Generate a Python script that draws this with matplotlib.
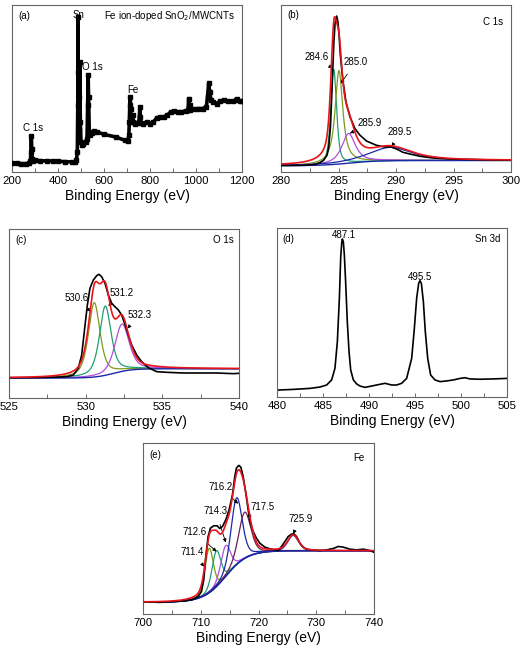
import numpy as np
import matplotlib
matplotlib.use("Agg")
import matplotlib.pyplot as plt
from matplotlib.ticker import MultipleLocator

plt.rcParams['font.family'] = ['Liberation Sans', 'DejaVu Sans']

# ---------------- (a) survey ----------------
survey_ev = [200, 220, 240, 260, 275, 280, 282, 284, 286, 288, 292, 300, 320, 350, 380, 400,
             430, 460, 475, 480, 484, 486, 487, 488, 490, 493, 495, 497, 500, 505, 510, 520,
             526, 529, 531, 533, 536, 540, 548, 555, 570, 600, 650, 690, 705, 708, 710, 712,
             714, 716, 718, 722, 726, 728, 735, 745, 752, 756, 758, 762, 770, 785, 800, 815,
             830, 845, 860, 875, 890, 905, 920, 935, 955, 965, 968, 972, 976, 990, 1010, 1030,
             1045, 1050, 1055, 1060, 1065, 1075, 1090, 1105, 1120, 1140, 1160, 1175, 1180,
             1190, 1200]
survey_cps = [5.2, 5.2, 5.0, 5.0, 5.2, 6.5, 12, 21.6, 14, 8, 6.8, 6.9, 6.8, 6.6, 6.6, 6.4,
              6.2, 6.0, 6.0, 7, 12, 40, 93, 60, 25, 45, 66, 30, 18, 16, 17, 18,
              20, 40, 58, 45, 24, 22, 23.5, 24.5, 24, 22.5, 21, 19, 18.5, 22, 30, 40,
              45, 38, 32, 30, 34, 30, 29, 29.5, 30, 39, 33, 29.5, 29, 30, 29, 30,
              32.5, 33, 33, 34, 36, 36.5, 36, 36, 36.5, 37, 44, 40, 37, 37.5, 38, 38,
              39, 45, 53, 48, 43, 42, 41, 42.5, 43, 42.5, 42.5, 43, 43.5,
              42.5, 42.5]

# ---------------- (b) C 1s ----------------
c1s_ev = [280.0, 281.0, 282.0, 282.5, 283.0, 283.4, 283.7, 284.0, 284.15, 284.3, 284.45, 284.6,
          284.7, 284.84, 284.95, 285.05, 285.15, 285.3, 285.42, 285.65, 286.0, 286.43, 286.87,
          287.45, 288.3, 289.0, 289.5, 290.1, 290.6, 291.2, 292.1, 293.2, 294.4, 295.6, 298.5, 300.0]
c1s_cps = [3.9, 3.9, 4.0, 4.2, 4.6, 5.6, 7.0, 10.0, 15, 27, 52, 78,
           89, 93.4, 90, 82, 71, 60, 53, 42, 33, 26, 22,
           18.5, 16.0, 15.0, 15.2, 13.6, 11.8, 10.8, 9.4, 8.4, 7.9, 7.6, 7.2, 7.2]
c1s_centers = [284.58, 285.04, 285.88, 289.5]
c1s_heights = [57.0, 56.0, 17.8, 8.0]
c1s_fwhm = [0.6, 0.8, 1.4, 4.5]
c1s_eta = [0.5, 0.9, 0.8, 0.8]
c1s_bg = [3.8, 6.9, 286.0, 1.2]

# ---------------- (c) O 1s ----------------
o1s_ev = [525.0, 526.5, 528.0, 528.76, 529.2, 529.52, 529.74, 529.96, 530.11, 530.28, 530.5,
          530.72, 530.87, 531.04, 531.26, 531.48, 531.7, 531.91, 532.13, 532.35, 532.57, 532.78,
          533.0, 533.33, 533.65, 534.09, 534.63, 535.28, 536.37, 537.46, 538.55, 539.63, 540.0]
o1s_cps = [12.0, 12.1, 12.3, 12.6, 13.6, 17.6, 25.4, 43.2, 55.0, 64.9, 69.8,
           72.4, 73.2, 71.8, 67.9, 60.9, 56.0, 54.0, 52.1, 49.1, 43.2, 37.3,
           31.4, 25.4, 21.5, 17.9, 15.6, 15.2, 14.8, 14.8, 14.8, 14.4, 14.6]
o1s_centers = [530.56, 531.28, 532.37]
o1s_heights = [44.0, 41.0, 28.0]
o1s_fwhm = [0.9, 0.9, 1.1]
o1s_eta = [0.6, 0.6, 0.5]
o1s_bg = [11.8, 17.3, 531.8, 0.6]

# ---------------- (d) Sn 3d ----------------
sn_ev = [480.04, 481.78, 483.59, 484.67, 485.4, 485.94, 486.3, 486.56, 486.78, 486.92, 487.03,
         487.1, 487.21, 487.32, 487.46, 487.64, 487.83, 488.01, 488.3, 488.66, 489.02, 489.57,
         490.11, 490.83, 491.74, 492.46, 493.01, 493.55, 494.09, 494.64, 494.93, 495.18, 495.4,
         495.54, 495.69, 495.91, 496.12, 496.38, 496.7, 497.17, 497.72, 498.44, 499.17, 499.89,
         500.43, 500.98, 502.07, 503.51, 504.96]
sn_cps = [4.1, 4.5, 5.1, 5.9, 7.1, 10.1, 17.0, 32.7, 58.4, 82.1, 90.9,
          93.5, 91.9, 84.0, 68.2, 44.6, 26.8, 16.0, 10.1, 7.7, 6.5, 5.7,
          6.3, 7.1, 8.1, 7.1, 7.1, 8.1, 11.0, 22.9, 40.6, 58.4, 67.3,
          68.8, 67.3, 56.4, 38.7, 22.9, 13.0, 10.1, 9.1, 9.5, 10.1, 11.0,
          11.4, 10.7, 10.5, 10.7, 11.0]

# ---------------- (e) Fe 2p ----------------
fe_ev = [700.0, 702.89, 705.78, 707.51, 708.67, 709.54, 710.12, 710.52, 710.87, 711.27, 711.68,
         712.25, 712.83, 713.29, 713.76, 714.34, 714.91, 715.49, 715.9, 716.18, 716.59, 716.94,
         717.34, 717.8, 718.21, 718.61, 719.08, 719.65, 720.23, 721.1, 721.97, 722.83, 723.41,
         723.99, 724.57, 725.14, 725.72, 726.13, 726.59, 727.17, 727.75, 728.32, 729.19, 730.64,
         731.79, 732.95, 733.82, 734.68, 735.84, 736.99, 738.15, 739.31, 740.0]
fe_cps = [7.2, 6.8, 7.4, 7.8, 8.6, 10.2, 13.1, 19.9, 33.6, 45.3, 50.2,
          51.6, 51.6, 50.0, 51.2, 55.1, 60.9, 69.7, 80.5, 85.4, 86.9, 85.9,
          80.5, 70.7, 60.9, 53.1, 48.2, 44.3, 41.4, 39.1, 38.1, 37.5, 37.1,
          39.5, 42.4, 45.3, 46.7, 46.9, 45.3, 41.4, 39.1, 37.9, 37.5, 37.1,
          37.5, 38.3, 39.5, 39.1, 37.9, 37.5, 37.9, 37.1, 36.1]
fe_centers = [711.45, 712.7, 714.3, 716.2, 717.6, 726.0]
fe_heights = [26.0, 21.0, 18.0, 39.0, 27.0, 9.0]
fe_fwhm = [1.7, 1.8, 2.0, 2.3, 2.5, 2.2]
fe_eta = [0.3, 0.3, 0.3, 0.3, 0.3, 0.3]
fe_bg = [6.9, 37.0, 714.3, 1.9]

RED = '#e8141c'
TEAL = '#20a070'
OLIVE = '#7f9a1f'
PURPLE = '#b24de0'
BLUE = '#1a28a8'
MAROON = '#6e1e4e'


def pv(x, c, h, w, eta):
    t = (x - c) / w
    return h * (eta / (1 + 4 * t ** 2) + (1 - eta) * np.exp(-4 * np.log(2) * t ** 2))


def bg(x, p):
    lo, hi, c, s = p
    return lo + (hi - lo) / (1 + np.exp(-(x - c) / s))


def style(ax, xlim, major, minor):
    ax.set_xlim(*xlim)
    ax.set_ylim(0, 100)
    ax.set_yticks([])
    ax.xaxis.set_major_locator(MultipleLocator(major))
    ax.xaxis.set_minor_locator(MultipleLocator(minor))
    ax.tick_params(axis='x', which='both', direction='in', length=3, width=0.6,
                   color='#555555', labelsize=8.2, pad=3)
    for s in ax.spines.values():
        s.set_color('#666666')
        s.set_linewidth(0.8)
    ax.set_xlabel('Binding Energy (eV)', fontsize=10, labelpad=2)


def fit_panel(ax, xlim, data_x, data_y, centers, heights, fwhm, eta, bgp, colors):
    x = np.linspace(xlim[0], xlim[1], 800)
    b = bg(x, bgp)
    total = b.copy()
    for c, h, w, e, col in zip(centers, heights, fwhm, eta, colors):
        p = pv(x, c, h, w, e)
        total += p
        ax.plot(x, b + p, color=col, lw=0.9, zorder=2)
    ax.plot(x, b, color=BLUE, lw=1.0, zorder=2)
    ax.plot(data_x, data_y, color='black', lw=1.2, zorder=3)
    ax.plot(x, total, color=RED, lw=1.2, zorder=4)


def label(ax, text, xy, xytext):
    ax.annotate(text, xy=xy, xytext=xytext, fontsize=7, ha='center', va='center',
                arrowprops=dict(arrowstyle='-|>', lw=0.6, color='black',
                                mutation_scale=5, shrinkA=4, shrinkB=0))


fig = plt.figure(figsize=(5.21, 6.48), dpi=100)
W, H = 521, 648


def axes_px(x0, y0, x1, y1):
    return fig.add_axes([x0 / W, 1 - y1 / H, (x1 - x0) / W, (y1 - y0) / H])


# (a)
axA = axes_px(12, 5, 242, 172)
axA.plot(survey_ev, survey_cps, color='black', lw=2.6, marker='s', ms=3.2, zorder=3)
style(axA, (200, 1200), 200, 100)
axA.text(0.054, 0.937, '(a)', transform=axA.transAxes, fontsize=7, ha='center', va='center')
axA.text(0.97, 0.937, 'Fe ion-doped SnO$_2$/MWCNTs', transform=axA.transAxes, fontsize=7,
         ha='right', va='center')
axA.text(491, 94, 'Sn', fontsize=7, ha='center', va='center')
axA.text(548, 62.6, 'O 1s', fontsize=7, ha='center', va='center')
axA.text(291, 26.3, 'C 1s', fontsize=7, ha='center', va='center')
axA.text(726, 49.1, 'Fe', fontsize=7, ha='center', va='center')

# (b)
axB = axes_px(281, 5, 511, 172)
fit_panel(axB, (280, 300), c1s_ev, c1s_cps, c1s_centers, c1s_heights, c1s_fwhm, c1s_eta,
          c1s_bg, [TEAL, OLIVE, PURPLE, BLUE])
style(axB, (280, 300), 5, 2.5)
axB.text(0.054, 0.94, '(b)', transform=axB.transAxes, fontsize=7, ha='center', va='center')
axB.text(0.922, 0.898, 'C 1s', transform=axB.transAxes, fontsize=7, ha='center', va='center')
label(axB, '284.6', (284.46, 62.1), (283.13, 68.9))
label(axB, '285.0', (285.2, 53.0), (286.52, 66.0))
label(axB, '285.9', (286.0, 23.2), (287.74, 29.1))
label(axB, '289.5', (289.63, 15.2), (290.35, 23.8))

# (c)
axC = axes_px(9, 229, 239, 398)
fit_panel(axC, (525, 540), o1s_ev, o1s_cps, o1s_centers, o1s_heights, o1s_fwhm, o1s_eta,
          o1s_bg, [OLIVE, TEAL, PURPLE])
style(axC, (525, 540), 5, 2.5)
axC.text(0.052, 0.935, '(c)', transform=axC.transAxes, fontsize=7, ha='center', va='center')
axC.text(0.930, 0.935, 'O 1s', transform=axC.transAxes, fontsize=7, ha='center', va='center')
label(axC, '530.6', (530.33, 51.1), (529.42, 59.0))
label(axC, '531.2', (531.48, 54.6), (532.37, 61.9))
label(axC, '532.3', (532.72, 41.2), (533.55, 49.1))

# (d)
axD = axes_px(277, 228, 507, 397)
axD.plot(sn_ev, sn_cps, color='black', lw=1.2)
style(axD, (480, 505), 5, 2.5)
axD.text(0.048, 0.935, '(d)', transform=axD.transAxes, fontsize=7, ha='center', va='center')
axD.text(0.917, 0.935, 'Sn 3d', transform=axD.transAxes, fontsize=7, ha='center', va='center')
axD.text(487.28, 95.9, '487.1', fontsize=7, ha='center', va='center')
axD.text(495.58, 71.2, '495.5', fontsize=7, ha='center', va='center')

# (e)
axE = axes_px(143, 443, 374, 614)
fit_panel(axE, (700, 740), fe_ev, fe_cps, fe_centers, fe_heights, fe_fwhm, fe_eta,
          fe_bg, [OLIVE, TEAL, PURPLE, BLUE, MAROON, BLUE])
style(axE, (700, 740), 10, 5)
axE.text(0.052, 0.93, '(e)', transform=axE.transAxes, fontsize=7, ha='center', va='center')
axE.text(0.935, 0.912, 'Fe', transform=axE.transAxes, fontsize=7, ha='center', va='center')
label(axE, '716.2', (716.47, 64.5), (713.41, 74.2))
label(axE, '714.3', (714.34, 41.8), (712.6, 60.0))
label(axE, '717.5', (718.03, 56.6), (720.7, 62.5))
label(axE, '712.6', (712.72, 36.5), (709.0, 47.9))
label(axE, '711.4', (710.58, 27.7), (708.6, 36.1))
label(axE, '725.9', (726.0, 46.9), (727.34, 55.7))

fig.savefig('out.png', dpi=100)
